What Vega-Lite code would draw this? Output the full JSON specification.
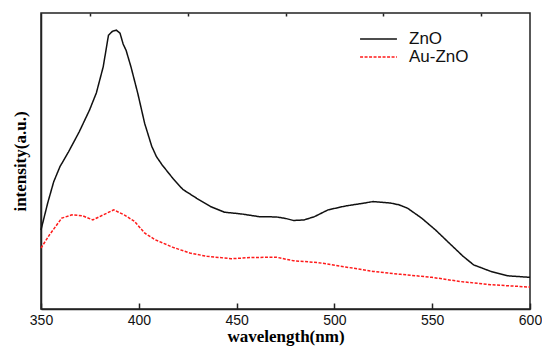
{
  "$schema": "https://vega.github.io/schema/vega-lite/v6.json",
  "width": 489,
  "height": 296,
  "autosize": {"type": "none"},
  "padding": {"left": 41, "top": 13, "right": 12, "bottom": 40},
  "background": "white",
  "config": {
    "view": {"stroke": "#222", "strokeWidth": 1.5},
    "font": "Liberation Sans"
  },
  "data": {
    "values": [
      {"w": 350, "v": 26.7, "s": "ZnO"},
      {"w": 353.5, "v": 36, "s": "ZnO"},
      {"w": 356.5, "v": 43, "s": "ZnO"},
      {"w": 359.7, "v": 48.1, "s": "ZnO"},
      {"w": 364, "v": 53, "s": "ZnO"},
      {"w": 369.5, "v": 59.8, "s": "ZnO"},
      {"w": 374.8, "v": 67.2, "s": "ZnO"},
      {"w": 378.3, "v": 73, "s": "ZnO"},
      {"w": 381.8, "v": 81.8, "s": "ZnO"},
      {"w": 384.5, "v": 92.5, "s": "ZnO"},
      {"w": 386.5, "v": 93.8, "s": "ZnO"},
      {"w": 388.5, "v": 94.2, "s": "ZnO"},
      {"w": 390.4, "v": 93.2, "s": "ZnO"},
      {"w": 392, "v": 89.5, "s": "ZnO"},
      {"w": 393.5, "v": 87.4, "s": "ZnO"},
      {"w": 396, "v": 81.8, "s": "ZnO"},
      {"w": 399.5, "v": 72.8, "s": "ZnO"},
      {"w": 403, "v": 62.7, "s": "ZnO"},
      {"w": 406.6, "v": 55, "s": "ZnO"},
      {"w": 409, "v": 51.5, "s": "ZnO"},
      {"w": 411.9, "v": 48.7, "s": "ZnO"},
      {"w": 417.2, "v": 44.3, "s": "ZnO"},
      {"w": 422.5, "v": 40.4, "s": "ZnO"},
      {"w": 429.6, "v": 37.4, "s": "ZnO"},
      {"w": 436.7, "v": 34.6, "s": "ZnO"},
      {"w": 443.8, "v": 32.7, "s": "ZnO"},
      {"w": 452.6, "v": 32.1, "s": "ZnO"},
      {"w": 461.5, "v": 31.2, "s": "ZnO"},
      {"w": 470.3, "v": 31.1, "s": "ZnO"},
      {"w": 475, "v": 30.6, "s": "ZnO"},
      {"w": 479.1, "v": 29.9, "s": "ZnO"},
      {"w": 484.5, "v": 30.1, "s": "ZnO"},
      {"w": 489.8, "v": 31.2, "s": "ZnO"},
      {"w": 496.8, "v": 33.5, "s": "ZnO"},
      {"w": 505.7, "v": 34.8, "s": "ZnO"},
      {"w": 514.5, "v": 35.7, "s": "ZnO"},
      {"w": 519.8, "v": 36.3, "s": "ZnO"},
      {"w": 528.7, "v": 35.8, "s": "ZnO"},
      {"w": 533, "v": 35.2, "s": "ZnO"},
      {"w": 537.5, "v": 34, "s": "ZnO"},
      {"w": 544.6, "v": 30.7, "s": "ZnO"},
      {"w": 551.7, "v": 26.7, "s": "ZnO"},
      {"w": 558.8, "v": 22.2, "s": "ZnO"},
      {"w": 565.8, "v": 17.8, "s": "ZnO"},
      {"w": 571.2, "v": 14.9, "s": "ZnO"},
      {"w": 580, "v": 12.7, "s": "ZnO"},
      {"w": 588.8, "v": 11.2, "s": "ZnO"},
      {"w": 600, "v": 10.7, "s": "ZnO"},
      {"w": 350, "v": 20.6, "s": "Au-ZnO"},
      {"w": 354.4, "v": 25.1, "s": "Au-ZnO"},
      {"w": 360.6, "v": 30.7, "s": "Au-ZnO"},
      {"w": 365.9, "v": 31.8, "s": "Au-ZnO"},
      {"w": 371.2, "v": 31.5, "s": "Au-ZnO"},
      {"w": 376.5, "v": 30.1, "s": "Au-ZnO"},
      {"w": 381.8, "v": 31.8, "s": "Au-ZnO"},
      {"w": 387.2, "v": 33.5, "s": "Au-ZnO"},
      {"w": 392.5, "v": 31.8, "s": "Au-ZnO"},
      {"w": 397.8, "v": 29.6, "s": "Au-ZnO"},
      {"w": 403.1, "v": 25.6, "s": "Au-ZnO"},
      {"w": 408.4, "v": 23.4, "s": "Au-ZnO"},
      {"w": 417.2, "v": 20.9, "s": "Au-ZnO"},
      {"w": 426.1, "v": 18.9, "s": "Au-ZnO"},
      {"w": 434.9, "v": 17.8, "s": "Au-ZnO"},
      {"w": 447.3, "v": 17, "s": "Au-ZnO"},
      {"w": 457.9, "v": 17.4, "s": "Au-ZnO"},
      {"w": 470.3, "v": 17.5, "s": "Au-ZnO"},
      {"w": 479.1, "v": 16.3, "s": "Au-ZnO"},
      {"w": 491.5, "v": 15.7, "s": "Au-ZnO"},
      {"w": 505.7, "v": 14.2, "s": "Au-ZnO"},
      {"w": 519.8, "v": 12.7, "s": "Au-ZnO"},
      {"w": 534, "v": 11.7, "s": "Au-ZnO"},
      {"w": 549.9, "v": 10.7, "s": "Au-ZnO"},
      {"w": 564.1, "v": 9.3, "s": "Au-ZnO"},
      {"w": 580, "v": 8.2, "s": "Au-ZnO"},
      {"w": 600, "v": 7.4, "s": "Au-ZnO"}
    ]
  },
  "layer": [
    {
      "mark": {"type": "line", "strokeWidth": 1.5},
      "encoding": {
        "x": {
          "field": "w", "type": "quantitative",
          "scale": {"domain": [350, 600], "nice": false, "zero": false},
          "axis": {
            "title": "wavelength(nm)",
            "titleFont": "Liberation Serif", "titleFontSize": 17, "titleFontWeight": "bold", "titleColor": "black",
            "titlePadding": 1,
            "values": [350, 400, 450, 500, 550, 600],
            "labelFont": "Liberation Sans", "labelFontSize": 14, "labelColor": "#111",
            "labelPadding": 10, "labelFlush": false,
            "tickSize": -6, "tickColor": "#222", "tickWidth": 1.5,
            "domainColor": "#222", "domainWidth": 1.5, "grid": false
          }
        },
        "y": {
          "field": "v", "type": "quantitative",
          "scale": {"domain": [0, 100], "nice": false},
          "axis": {
            "title": "intensity(a.u.)",
            "titleFont": "Liberation Serif", "titleFontSize": 17, "titleFontWeight": "bold", "titleColor": "black",
            "titlePadding": 12,
            "labels": false, "ticks": false, "grid": false,
            "domainColor": "#222", "domainWidth": 1.5
          }
        },
        "color": {
          "field": "s", "type": "nominal",
          "scale": {"domain": ["ZnO", "Au-ZnO"], "range": ["#111", "#ff1a1a"]},
          "legend": {
            "title": null, "orient": "none", "legendX": 329, "legendY": 17.5,
            "symbolType": "M-4,0H4", "symbolSize": 85, "symbolStrokeWidth": 1.5,
            "labelFont": "Liberation Sans", "labelFontSize": 17, "labelColor": "#111",
            "rowPadding": 0, "labelOffset": 22
          }
        },
        "strokeDash": {
          "field": "s", "type": "nominal",
          "scale": {"domain": ["ZnO", "Au-ZnO"], "range": [[1, 0], [3, 1.5]]},
          "legend": null
        }
      }
    },
    {
      "mark": {"type": "line", "opacity": 0},
      "encoding": {
        "x": {
          "field": "w", "type": "quantitative",
          "axis": {
            "title": null, "labels": false, "domain": false, "grid": false,
            "values": [375, 425, 475, 525, 575],
            "tickSize": -3, "tickColor": "#222", "tickWidth": 1.5, "offset": 0
          }
        },
        "y": {"field": "v", "type": "quantitative"}
      }
    }
  ],
  "resolve": {"axis": {"x": "independent"}}
}
